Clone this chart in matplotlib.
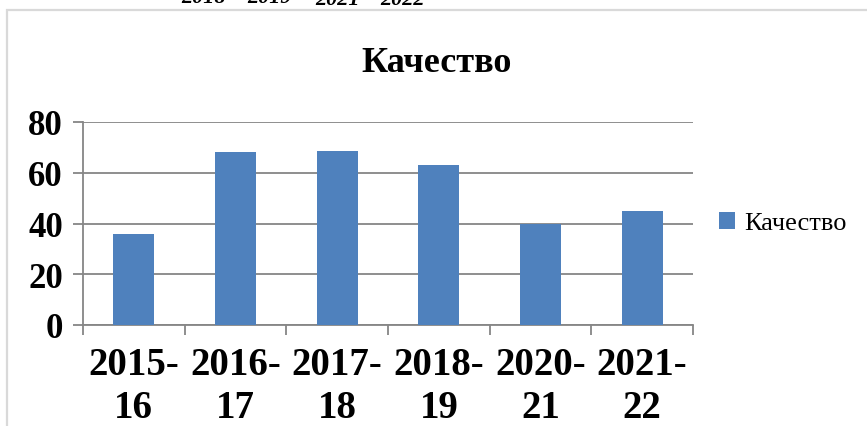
import matplotlib
matplotlib.use("Agg")
import matplotlib.pyplot as plt
from matplotlib.patches import Rectangle
import numpy as np

categories = ["2015-\n16", "2016-\n17", "2017-\n18", "2018-\n19", "2020-\n21", "2021-\n22"]
values = [36, 68, 68.5, 63, 40, 45]
series_name = "Качество"
title = "Качество"
yticks = [0, 20, 40, 60, 80]
top_residue = ["2018", "2019", "2021", "2022"]

plt.rcParams['font.family'] = ['Liberation Serif', 'DejaVu Serif']

W, H = 867, 427
fig = plt.figure(figsize=(W / 100, H / 100), dpi=100)
ax = fig.add_axes([83 / W, 1 - 326 / H, (693 - 83) / W, (326 - 123) / H])

gray = '#868686'
blue = '#4f81bd'
x = np.arange(len(categories))
ax.bar(x, values, width=0.4, color=blue, label=series_name, zorder=3)

ax.set_xlim(-0.5, len(categories) - 0.5)
ax.set_ylim(0, 80)
ax.set_yticks(yticks)
ax.set_yticklabels([str(v) for v in yticks], fontsize=25, fontweight='bold')
ax.set_xticks(x)
ax.set_xticklabels(categories, fontsize=28, fontweight='bold', linespacing=1.22)
ax.set_xticks(np.arange(-0.5, len(categories)), minor=True)

ax.tick_params(axis='x', which='major', length=0, pad=15)
ax.tick_params(axis='x', which='minor', length=7.5, width=1.3, color=gray, direction='out')
ax.tick_params(axis='y', which='major', length=7.5, width=1.3, color=gray, direction='out', pad=7)

ax.yaxis.grid(True, color=gray, linewidth=1.3, zorder=0)
for s in ['top', 'right']:
    ax.spines[s].set_visible(False)
for s in ['left', 'bottom']:
    ax.spines[s].set_color(gray)
    ax.spines[s].set_linewidth(1.3)

fig.text(437 / W, 1 - 72 / H, title, ha='center', va='baseline', fontsize=26, fontweight='bold')

ax.legend(loc='center left', bbox_to_anchor=(719 / W, 1 - 224 / H), bbox_transform=fig.transFigure,
          frameon=False, fontsize=19, handlelength=0.62, handleheight=0.62, handletextpad=0.35,
          borderpad=0, borderaxespad=0)

# chart frame (partially visible)
fig.patches.append(Rectangle((7 / W, -0.2), 2, 1.2 - 11 / H, transform=fig.transFigure,
                             fill=False, edgecolor='#d9d9d9', linewidth=1.6))

# residue text cut off at the top
for label, xc, yb in zip(top_residue, [204, 270, 338, 403], [3, 3, 5, 5]):
    fig.text(xc / W, 1 - yb / H, label, ha='center', va='baseline', fontsize=16,
             fontweight='bold', fontstyle='italic')

fig.savefig('out.png', dpi=100)
